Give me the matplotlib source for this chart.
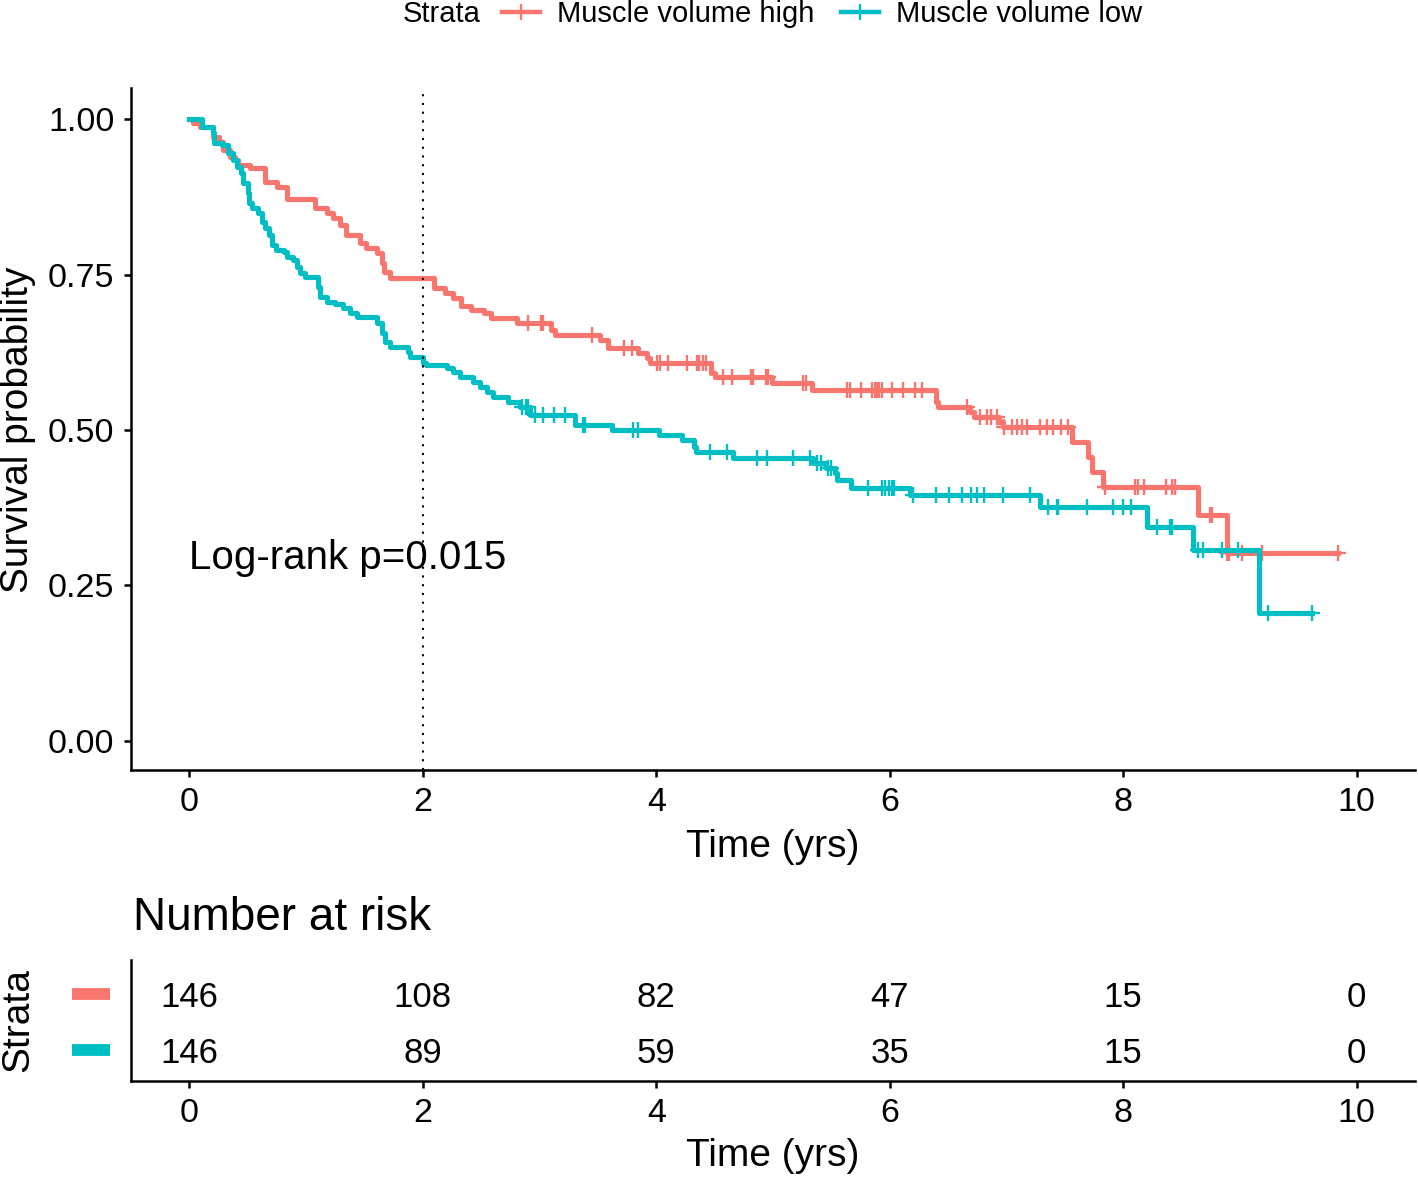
import numpy as np
import matplotlib
matplotlib.use('Agg')
import matplotlib.pyplot as plt
from matplotlib.lines import Line2D

plt.rcParams['font.family'] = ['Liberation Sans', 'DejaVu Sans']

# Kaplan-Meier steps: drop time (yrs), survival after the drop
high_t = [0, 0.03, 0.09, 0.20, 0.25, 0.29, 0.35, 0.39, 0.42, 0.52, 0.65, 0.75, 0.84,
          1.08, 1.18, 1.23, 1.29, 1.34, 1.46, 1.51, 1.61, 1.65, 1.67, 1.72,
          2.10, 2.19, 2.26, 2.33, 2.41, 2.52, 2.58, 2.81, 3.10, 3.13, 3.52, 3.59,
          3.84, 3.92, 3.95, 4.47, 4.50, 4.99, 5.33, 6.40, 6.41, 6.69, 6.72, 6.94,
          6.97, 7.56, 7.70, 7.73, 7.83, 8.64, 8.89]
high_s = [1.0, 0.994, 0.987, 0.971, 0.963, 0.950, 0.939, 0.934, 0.926, 0.921, 0.899, 0.891, 0.871,
          0.857, 0.849, 0.841, 0.830, 0.813, 0.801, 0.793, 0.785, 0.768, 0.754, 0.744,
          0.728, 0.720, 0.712, 0.700, 0.693, 0.688, 0.680, 0.672, 0.661, 0.653, 0.645, 0.632,
          0.624, 0.616, 0.608, 0.592, 0.585, 0.576, 0.564, 0.545, 0.537, 0.529, 0.521, 0.513,
          0.505, 0.481, 0.457, 0.432, 0.408, 0.363, 0.302]
high_end = 9.84
high_cens = [2.90, 3.01, 3.03, 3.45, 3.72, 3.79, 4.01, 4.03, 4.10, 4.26, 4.35, 4.37, 4.40,
             4.43, 4.57, 4.65, 4.81, 4.83, 4.94, 4.96, 5.26, 5.28, 5.63, 5.66, 5.75, 5.85,
             5.87, 5.89, 5.91, 5.93, 6.02, 6.11, 6.22, 6.28, 6.66, 6.77, 6.83, 6.87, 6.92,
             6.98, 7.05, 7.09, 7.13, 7.18, 7.29, 7.35, 7.40, 7.47, 7.53, 7.84, 8.10, 8.13,
             8.18, 8.37, 8.42, 8.44, 8.74, 8.76, 8.89, 8.91, 9.02, 9.19, 9.84]

low_t = [0, 0.11, 0.20, 0.21, 0.28, 0.33, 0.37, 0.41, 0.44, 0.46, 0.50, 0.51, 0.54, 0.59,
         0.62, 0.65, 0.68, 0.71, 0.74, 0.81, 0.84, 0.89, 0.92, 0.95, 0.99, 1.10, 1.12,
         1.18, 1.25, 1.32, 1.38, 1.44, 1.61, 1.65, 1.68, 1.72, 1.87, 1.89, 2.00, 2.03,
         2.21, 2.26, 2.32, 2.43, 2.49, 2.55, 2.60, 2.73, 2.83, 2.92, 3.30, 3.62, 4.02,
         4.22, 4.32, 4.34, 4.66, 5.34, 5.45, 5.53, 5.55, 5.67, 6.17, 7.29, 8.20, 8.60, 9.16]
low_s = [1.0, 0.987, 0.977, 0.961, 0.958, 0.945, 0.934, 0.923, 0.913, 0.897, 0.881, 0.865, 0.857, 0.849,
         0.834, 0.825, 0.813, 0.797, 0.789, 0.786, 0.778, 0.773, 0.762, 0.752, 0.746, 0.730, 0.714,
         0.706, 0.702, 0.696, 0.688, 0.682, 0.672, 0.656, 0.641, 0.633, 0.625, 0.617, 0.608, 0.604,
         0.600, 0.593, 0.585, 0.577, 0.569, 0.561, 0.553, 0.545, 0.537, 0.524, 0.508, 0.500, 0.492,
         0.484, 0.473, 0.465, 0.455, 0.447, 0.439, 0.431, 0.420, 0.407, 0.395, 0.376, 0.344, 0.307, 0.206]
low_end = 9.62
low_cens = [2.85, 2.88, 2.90, 2.96, 3.03, 3.12, 3.22, 3.37, 3.39, 3.80, 3.84, 4.46, 4.61,
            4.86, 4.95, 5.17, 5.32, 5.38, 5.41, 5.47, 5.50, 5.81, 5.93, 5.96, 5.99, 6.02,
            6.04, 6.20, 6.40, 6.51, 6.62, 6.70, 6.75, 6.81, 6.97, 7.20, 7.36, 7.43, 7.44,
            7.69, 7.91, 8.00, 8.07, 8.29, 8.40, 8.42, 8.64, 8.68, 8.85, 8.98, 9.24, 9.62]

risk_times = [0, 2, 4, 6, 8, 10]
risk_high = [146, 108, 82, 47, 15, 0]
risk_low = [146, 89, 59, 35, 15, 0]

labels = ['Muscle volume high', 'Muscle volume low']
colors = ['#F8766D', '#00BFC4']

W, H = 1418, 1179
fig = plt.figure(figsize=(W / 100, H / 100), dpi=100)

def fx(px):
    return px / W

def fy(py):
    return 1 - py / H

ax = fig.add_axes([fx(131), fy(770), fx(1415) - fx(131), fy(88) - fy(770)])
axt = fig.add_axes([fx(131), fy(1081), fx(1415) - fx(131), fy(960) - fy(1081)])

curves = [(high_t, high_s, high_end, high_cens), (low_t, low_s, low_end, low_cens)]
for (t, s, end, cens), col in zip(curves, colors):
    t = np.array(t); s = np.array(s)
    ax.step(np.append(t, end), np.append(s, s[-1]), where='post', color=col, lw=3.7)
    c = np.array(cens)
    cy = s[np.searchsorted(t, c, side='right') - 1]
    ax.plot(c, cy, ls='none', marker='+', ms=11, mew=1.7, color=col)

ax.axvline(2, color='black', ls=(0, (1, 3.2)), lw=1.5)
ax.text(0, 0.30, 'Log-rank p=0.015', fontsize=29, ha='left', va='center_baseline')

for a in (ax, axt):
    a.set_xlim(-0.5, 10.5)
    a.set_xticks([0, 2, 4, 6, 8, 10])
    for sp in ['top', 'right']:
        a.spines[sp].set_visible(False)
    for sp in ['left', 'bottom']:
        a.spines[sp].set_linewidth(1.8)
    a.tick_params(labelsize=24.5, width=1.8, length=5, pad=7, color='black')

ax.set_ylim(-0.047, 1.05)
ax.set_yticks([0, 0.25, 0.5, 0.75, 1.0])
ax.set_yticklabels(['0.00', '0.25', '0.50', '0.75', '1.00'])

# risk table
axt.set_ylim(-0.545, 1.6)
axt.set_yticks([])
for row, vals in zip([1, 0], [risk_high, risk_low]):
    for tt, n in zip(risk_times, vals):
        axt.text(tt, row, str(n), fontsize=25, ha='center', va='center_baseline')
ytr = axt.get_yaxis_transform()
for row, col in zip([1, 0], colors):
    axt.plot([-0.046, -0.016], [row, row], transform=ytr, color=col, lw=8.5,
             solid_capstyle='butt', clip_on=False)

fig.text(fx(773), fy(847), 'Time (yrs)', fontsize=28, ha='center', va='center')
fig.text(fx(773), fy(1156), 'Time (yrs)', fontsize=28, ha='center', va='center')
fig.text(fx(18), fy(430), 'Survival probability', fontsize=28, rotation=90, ha='center', va='center')
fig.text(fx(18), fy(1020), 'Strata', fontsize=28, rotation=90, ha='center', va='center')
fig.text(fx(133), fy(918), 'Number at risk', fontsize=33, ha='left', va='center')

# legend on top
handles = [Line2D([], [], color=c, lw=3.2, marker='+', ms=12, mew=1.6) for c in colors]
fig.legend(handles, labels, loc='center left', bbox_to_anchor=(fx(502), fy(14)), ncol=2,
           frameon=False, fontsize=21, handlelength=1.3, handletextpad=0.6,
           columnspacing=0.9, borderpad=0, borderaxespad=0)
fig.text(fx(481), fy(14), 'Strata', fontsize=21, ha='right', va='center')

fig.savefig('out.png', dpi=100)
